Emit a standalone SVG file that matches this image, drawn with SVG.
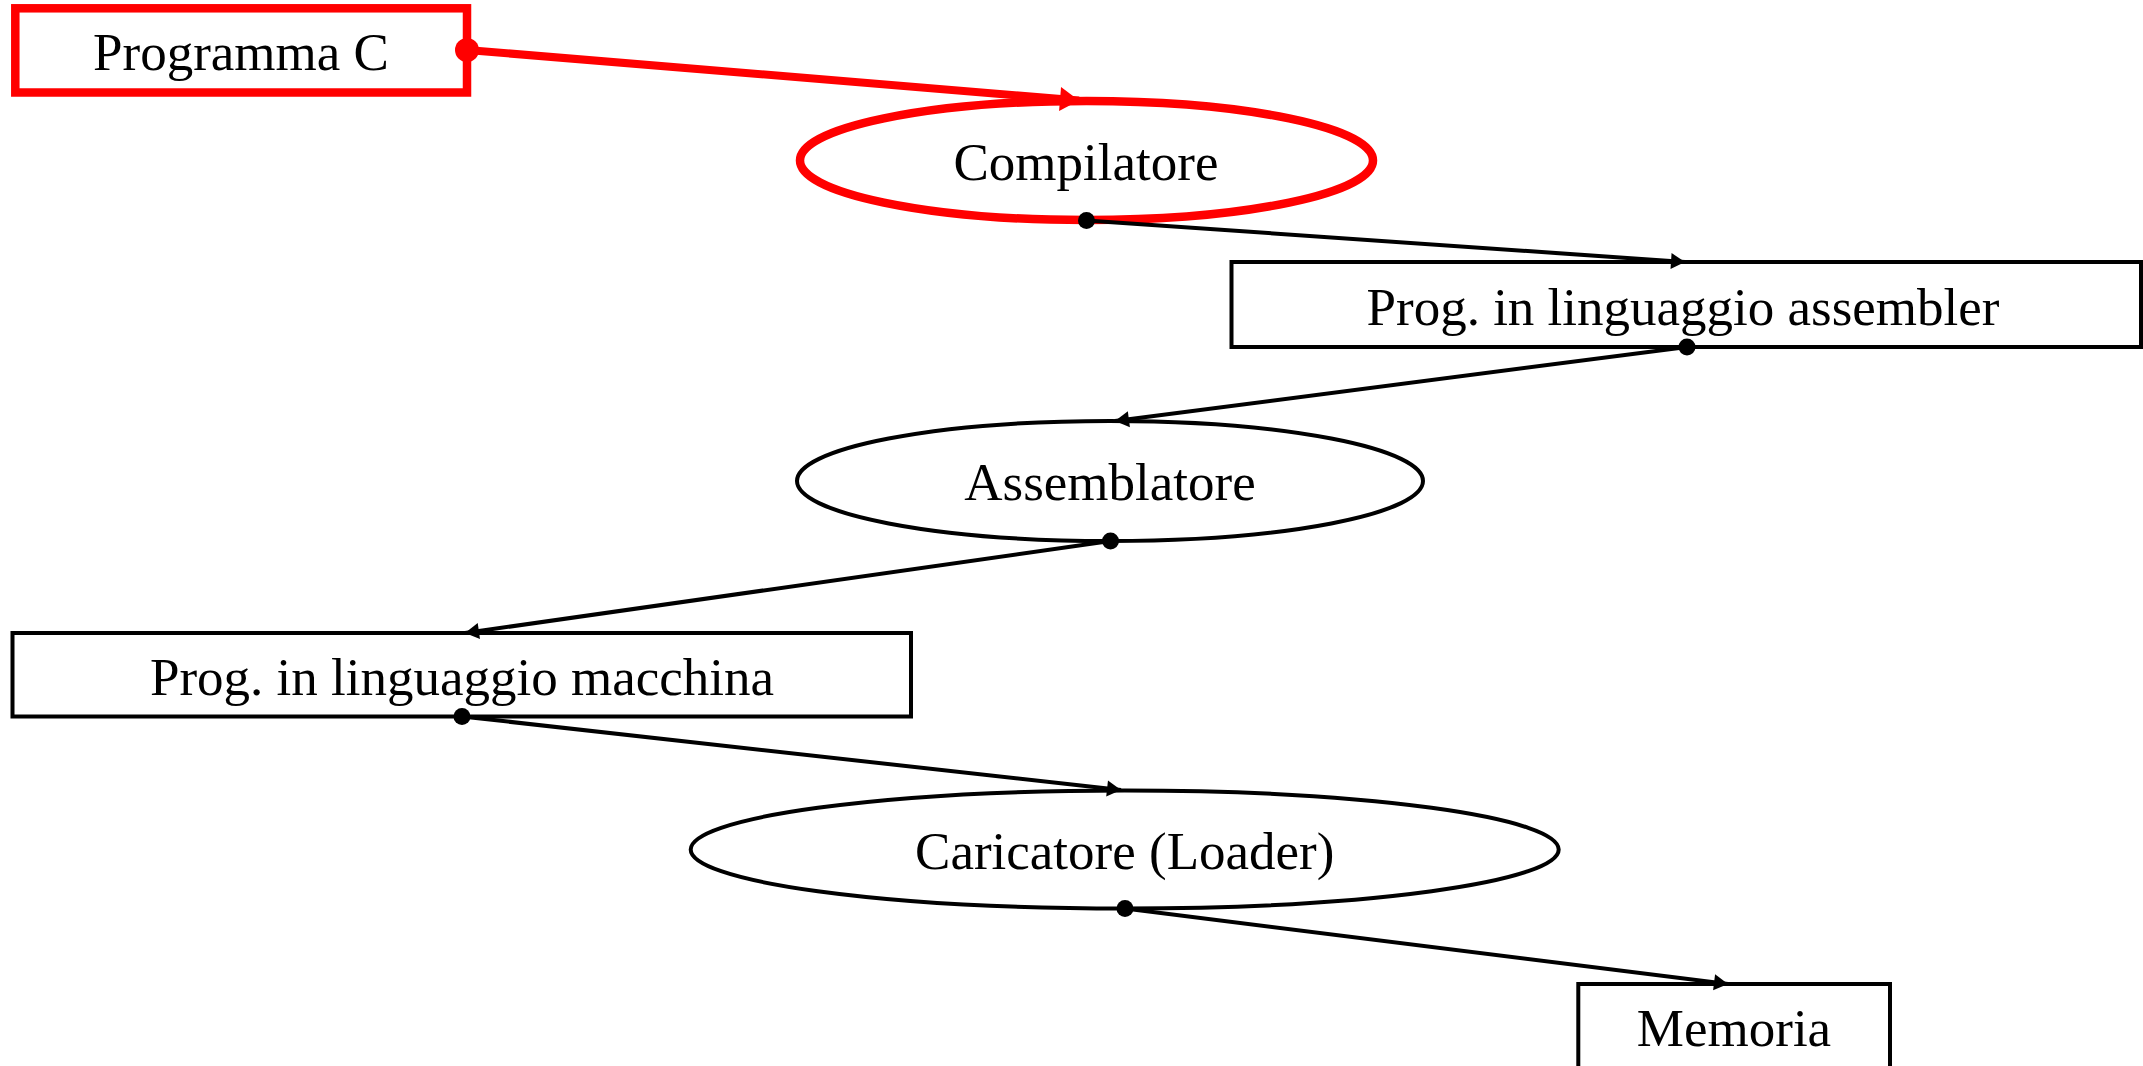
<svg xmlns="http://www.w3.org/2000/svg" width="2143" height="1066" viewBox="0 0 2143 1066">
  <style>
    .box { fill: #ffffff; stroke: #000000; stroke-width: 4; }
    .box.hl { stroke: #ff0000; stroke-width: 8.5; }
    .lbl { font-family: "Liberation Serif", "Times New Roman", serif; font-size: 53px; fill: #000000; text-anchor: middle; }
    .edge { fill: none; stroke: #000000; stroke-width: 4; marker-start: url(#dot); marker-end: url(#arrow); }
    .edge.hl { stroke: #ff0000; stroke-width: 8; marker-start: url(#dotRed); marker-end: url(#arrowRed); }
  </style>
  <defs>
    <marker id="arrow" markerUnits="userSpaceOnUse" markerWidth="16" markerHeight="17" refX="14" refY="8" orient="auto" overflow="visible">
      <path d="M0,0 L14,8 L0,16 Z" fill="#000000"/>
    </marker>
    <marker id="arrowRed" markerUnits="userSpaceOnUse" markerWidth="21" markerHeight="25" refX="19" refY="12" orient="auto" overflow="visible">
      <path d="M0,0 L19,12 L0,24 Z" fill="#ff0000"/>
    </marker>
    <marker id="dot" markerUnits="userSpaceOnUse" markerWidth="20" markerHeight="20" refX="10" refY="10" orient="0" overflow="visible">
      <circle cx="10" cy="10" r="8.5" fill="#000000"/>
    </marker>
    <marker id="dotRed" markerUnits="userSpaceOnUse" markerWidth="26" markerHeight="26" refX="13" refY="13" orient="0" overflow="visible">
      <circle cx="13" cy="13" r="12" fill="#ff0000"/>
    </marker>
  </defs>

  <rect width="2143" height="1066" fill="#ffffff"/>

  <!-- nodes -->
  <g id="programma-c">
    <rect class="box hl" x="15.3" y="8.3" width="451.7" height="84.2"/>
    <text class="lbl" x="241" y="70">Programma C</text>
  </g>
  <g id="compilatore">
    <ellipse class="box hl" cx="1086.5" cy="160.5" rx="286.5" ry="59.5"/>
    <text class="lbl" x="1086" y="180">Compilatore</text>
  </g>
  <g id="prog-assembler">
    <rect class="box" x="1231.5" y="262" width="909.5" height="85"/>
    <text class="lbl" x="1683" y="325">Prog. in linguaggio assembler</text>
  </g>
  <g id="assemblatore">
    <ellipse class="box" cx="1110" cy="481" rx="313" ry="60"/>
    <text class="lbl" x="1110" y="500">Assemblatore</text>
  </g>
  <g id="prog-macchina">
    <rect class="box" x="12.5" y="633" width="898.5" height="83.5"/>
    <text class="lbl" x="462" y="695">Prog. in linguaggio macchina</text>
  </g>
  <g id="caricatore">
    <ellipse class="box" cx="1124.7" cy="849.5" rx="434" ry="59"/>
    <text class="lbl" x="1124.7" y="869">Caricatore (Loader)</text>
  </g>
  <g id="memoria">
    <rect class="box" x="1578.3" y="984" width="311.7" height="85"/>
    <text class="lbl" x="1734" y="1046">Memoria</text>
  </g>

  <!-- connectors -->
  <g id="connectors">
    <path class="edge hl" d="M467,50 L1079,100.5"/>
    <path class="edge" d="M1086.5,220.5 L1685,262"/>
    <path class="edge" d="M1687,347 L1115,421"/>
    <path class="edge" d="M1110.5,541 L465,633"/>
    <path class="edge" d="M462,716.5 L1121,790"/>
    <path class="edge" d="M1125,908.5 L1728,984"/>
  </g>
</svg>
